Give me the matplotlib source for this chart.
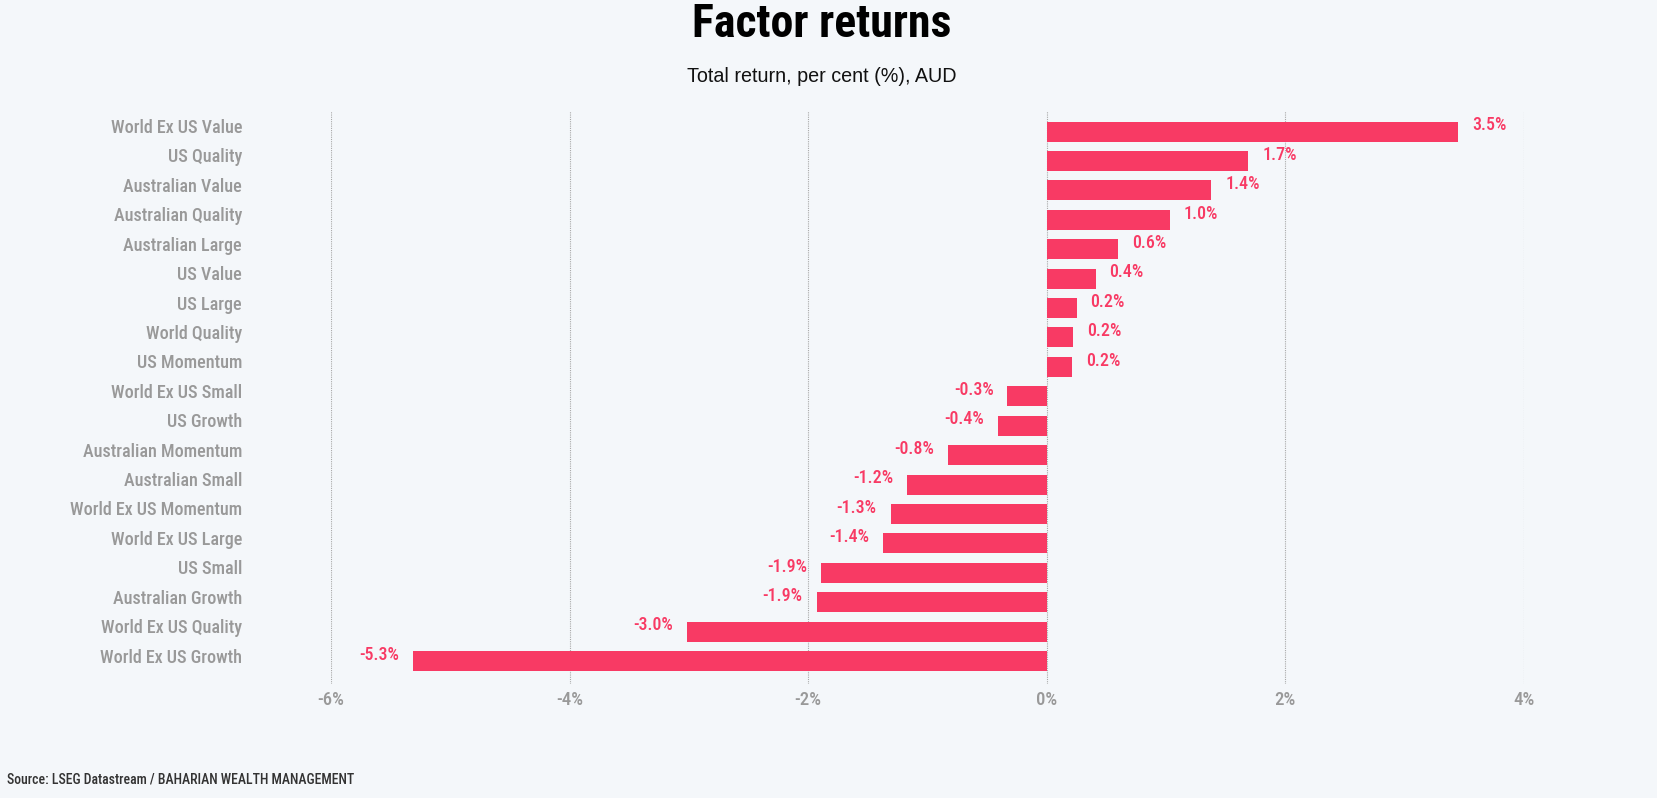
import matplotlib
matplotlib.use("Agg")
import matplotlib.pyplot as plt
from matplotlib import font_manager as fm
from matplotlib.ticker import FuncFormatter
from matplotlib.transforms import ScaledTranslation

categories = ["World Ex US Value", "US Quality", "Australian Value", "Australian Quality",
              "Australian Large", "US Value", "US Large", "World Quality", "US Momentum",
              "World Ex US Small", "US Growth", "Australian Momentum", "Australian Small",
              "World Ex US Momentum", "World Ex US Large", "US Small", "Australian Growth",
              "World Ex US Quality", "World Ex US Growth"]
values = [3.45, 1.69, 1.38, 1.03, 0.60, 0.41, 0.25, 0.22, 0.21,
          -0.33, -0.41, -0.83, -1.17, -1.31, -1.37, -1.89, -1.93, -3.02, -5.31]
value_labels = ["3.5%", "1.7%", "1.4%", "1.0%", "0.6%", "0.4%", "0.2%", "0.2%", "0.2%",
                "-0.3%", "-0.4%", "-0.8%", "-1.2%", "-1.3%", "-1.4%", "-1.9%", "-1.9%",
                "-3.0%", "-5.3%"]
x_ticks = [-6, -4, -2, 0, 2, 4]

names = {f.name for f in fm.fontManager.ttflist}
def pick(*cands):
    for c in cands:
        if c in names:
            return c
    return "DejaVu Sans"

narrow = pick("Roboto Condensed", "Liberation Sans Narrow", "DejaVu Sans Condensed", "Open Sans Condensed", "Liberation Sans")
regular = pick("Liberation Sans", "Arial", "DejaVu Sans")

BG = "#f4f7fa"
BAR = "#f83a64"
GRAY = "#999999"

fig = plt.figure(figsize=(16.57, 7.98), dpi=100, facecolor=BG)
ax = fig.add_axes([331/1657, 1-684/798, (1524-331)/1657, (684-111)/798])
ax.set_facecolor(BG)

ypos = list(range(len(categories)))
ax.barh(ypos, values, height=0.68, color=BAR, zorder=3)
ax.set_ylim(18.78, -0.7)
ax.set_xlim(-6, 4)
ax.set_xticks(x_ticks)
ax.xaxis.set_major_formatter(FuncFormatter(lambda v, p: f"{int(v)}%"))
ax.set_yticks(ypos)
ax.set_yticklabels(categories)
for s in ax.spines.values():
    s.set_visible(False)
ax.tick_params(axis="y", length=0, pad=64, labelsize=13, labelcolor=GRAY)
ax.tick_params(axis="x", length=0, pad=5, labelsize=13.5, labelcolor=GRAY)
shift = ScaledTranslation(0, 4.0/72, fig.dpi_scale_trans)
for lab in ax.get_yticklabels():
    lab.set_fontfamily(narrow)
    lab.set_fontweight("medium")
    lab.set_transform(lab.get_transform() + shift)
for lab in ax.get_xticklabels():
    lab.set_fontfamily(narrow)
    lab.set_fontweight("medium")
ax.grid(axis="x", color="#a8a8a8", linestyle=(0, (1, 1)), linewidth=0.8, zorder=0)
ax.grid(axis="y", visible=False)

for y, v, t in zip(ypos, values, value_labels):
    if v >= 0:
        ax.annotate(t, (v, y), xytext=(10, 4.5), textcoords="offset points",
                    ha="left", va="center", color=BAR, fontsize=13, family=narrow,
                    fontweight="medium")
    else:
        ax.annotate(t, (v, y), xytext=(-10, 4.5), textcoords="offset points",
                    ha="right", va="center", color=BAR, fontsize=13, family=narrow,
                    fontweight="medium")

fig.text(822/1657, 1-24/798, "Factor returns", ha="center", va="center",
         fontsize=33, fontweight="heavy", family=narrow, color="black")
fig.text(822/1657, 1-76/798, "Total return, per cent (%), AUD", ha="center", va="center",
         fontsize=14.2, family=regular, color="#111111")
fig.text(7/1657, 1-779/798, "Source: LSEG Datastream / BAHARIAN WEALTH MANAGEMENT",
         ha="left", va="center", fontsize=9.9, family=narrow, fontweight="medium",
         color="#333333")

fig.savefig("out.png", dpi=100, facecolor=BG)
